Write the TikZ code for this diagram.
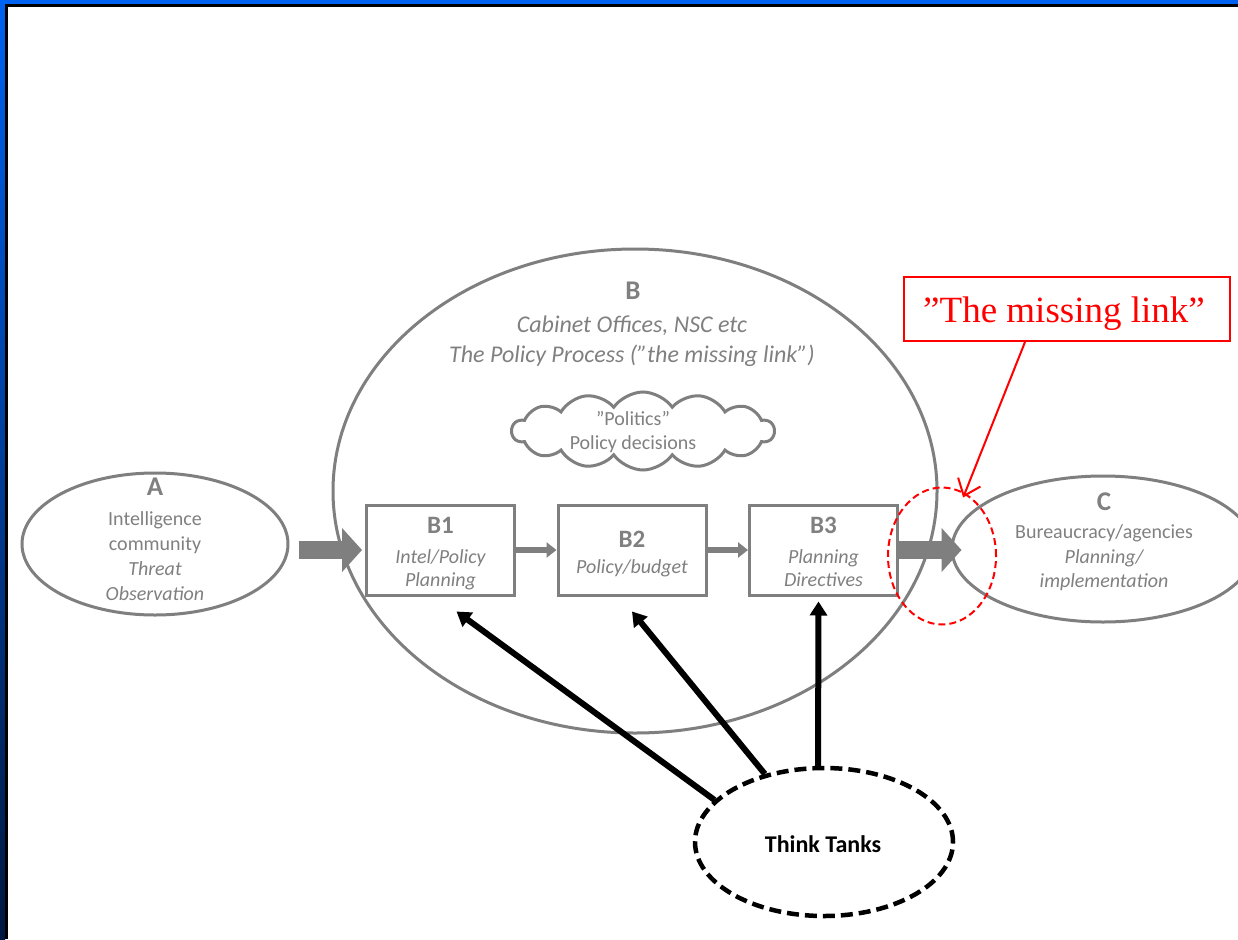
\documentclass[tikz,border=0pt]{standalone}
\usepackage{fontspec}
\setmainfont{Carlito}
\newfontfamily\timesfont{Liberation Serif}
\usetikzlibrary{shapes.geometric,shapes.symbols,arrows.meta}

\definecolor{gline}{RGB}{127,127,127}
\definecolor{gtxt}{RGB}{128,128,128}
\definecolor{frameblue}{RGB}{0,98,240}
\definecolor{framenavy}{RGB}{0,24,64}
\definecolor{linkred}{RGB}{255,0,0}

\begin{document}
\begin{tikzpicture}[x=1pt,y=-1pt,
  outline/.style={draw=gline,line width=3pt},
  oval/.style={ellipse,outline,inner sep=0pt},
  pbox/.style={rectangle,outline,minimum width=148pt,minimum height=90pt,inner sep=0pt},
  txt/.style={text=gtxt,anchor=base,inner sep=0pt,font=\fontsize{20}{24}\selectfont},
  itxt/.style={txt,font=\fontsize{20}{24}\selectfont\itshape},
  bitxt/.style={txt,font=\fontsize{24}{28}\selectfont\itshape},
  hd/.style={txt,font=\fontsize{27}{30}\selectfont\bfseries},
  boxhd/.style={txt,font=\fontsize{25}{28}\selectfont\bfseries},
  bigarrow/.style={draw=gline,line width=18pt,-{Triangle[length=20pt,width=43pt]}},
  smallarrow/.style={draw=gline,line width=6pt,-{Triangle[length=10pt,width=15pt]}},
  ttarrow/.style={draw=black,line width=6pt,-{Triangle[length=14pt,width=17pt]}},
  redline/.style={draw=linkred,line width=2pt}
]
\useasboundingbox (0,0) rectangle (1238,939);
\fill[white] (0,0) rectangle (1238,939);

% slide frame
\shade[top color=frameblue,bottom color=framenavy] (0,0) rectangle (5,939);
\fill[frameblue] (0,0) rectangle (1238,4);
\fill[black] (5,4) rectangle (1238,7);
\fill[black] (5,4) rectangle (8,939);

% main ovals
\node[oval,minimum width=604pt,minimum height=484pt] (B) at (635,491) {};
\node[oval,minimum width=266pt,minimum height=142pt] (A) at (155,544) {};
\node[oval,minimum width=302pt,minimum height=146pt] (C) at (1103,549) {};
\node[cloud,cloud puffs=14,cloud puff arc=110,aspect=3.3,outline,minimum width=262pt,minimum height=78pt,inner sep=0pt] (pol) at (643,431) {};

% process boxes
\node[pbox] (B1) at (440.5,550) {};
\node[pbox] (B2) at (632,550) {};
\node[pbox] (B3) at (823.5,550) {};

% labels of A
\node[hd] (Ahd) at (155,495) {A};
\node[txt] (A1) at (155,525) {Intelligence};
\node[txt] (A2) at (155,550) {community};
\node[itxt] (A3) at (155,575) {Threat};
\node[itxt] (A4) at (155,600) {Observation};

% labels of B
\node[hd] (Bhd) at (633,299) {B};
\node[bitxt] (Bl1) at (632,332) {Cabinet Offices, NSC etc};
\node[bitxt] (Bl2) at (632,362) {The Policy Process (”the missing link”)};
\node[txt] (P1) at (633,425) {”Politics”};
\node[txt] (P2) at (633,449) {Policy decisions};

% labels of the boxes
\node[boxhd] (B1hd) at (440.5,533) {B1};
\node[itxt] (B1a) at (440.5,563) {Intel/Policy};
\node[itxt] (B1b) at (440.5,586) {Planning};
\node[boxhd] (B2hd) at (632,547) {B2};
\node[itxt] (B2a) at (632,573) {Policy/budget};
\node[boxhd] (B3hd) at (823.5,533) {B3};
\node[itxt] (B3a) at (823.5,563) {Planning};
\node[itxt] (B3b) at (823.5,586) {Directives};

% labels of C
\node[hd] (Chd) at (1104,510) {C};
\node[txt] (C1) at (1104,538) {Bureaucracy/agencies};
\node[itxt] (C2) at (1104,563) {Planning/};
\node[itxt] (C3) at (1104,587) {implementation};

% flow arrows
\draw[bigarrow,shorten <=9pt,shorten >=3pt] (A.east |- B1.west) -- (B1.west);
\draw[smallarrow] (B1.east) -- (B2.west);
\draw[smallarrow] (B2.east) -- (B3.west);
\draw[bigarrow] (B3.east) -- ([xshift=11pt]C.west |- B3.east);

% think tanks and their influence
\node[ellipse,draw=black,line width=4.5pt,dash pattern=on 12pt off 6pt,minimum width=258pt,minimum height=148pt,inner sep=0pt] (TT) at (824,842) {};
\node[anchor=base,inner sep=0pt,font=\fontsize{24}{28}\selectfont\bfseries] (TTtxt) at (823,852) {Think Tanks};
\draw[ttarrow] (TT.159.5) -- ([xshift=16pt,yshift=-15pt]B1.south);
\draw[ttarrow] (TT.131.7) -- ([yshift=-15pt]B2.south);
\draw[ttarrow] ([xshift=-6pt]TT.north) -- ([xshift=-5pt,yshift=-5pt]B3.south);

% callout
\node[redline,dash pattern=on 7pt off 4pt,ellipse,minimum width=108pt,minimum height=137pt,inner sep=0pt] (gap) at (942,556) {};
\node[redline,fill=white,rectangle,minimum width=326pt,minimum height=64pt,inner sep=0pt] (ML) at (1067,309) {};
\node[anchor=base,inner sep=0pt,text=linkred,font=\timesfont\fontsize{37}{40}\selectfont] (MLtxt) at (1064,322) {”The missing link”};
\draw[redline,-{Straight Barb[length=15pt,width=24pt]},shorten >=-5pt] ([xshift=-42pt]ML.south) -- (gap.70);
\end{tikzpicture}
\end{document}
